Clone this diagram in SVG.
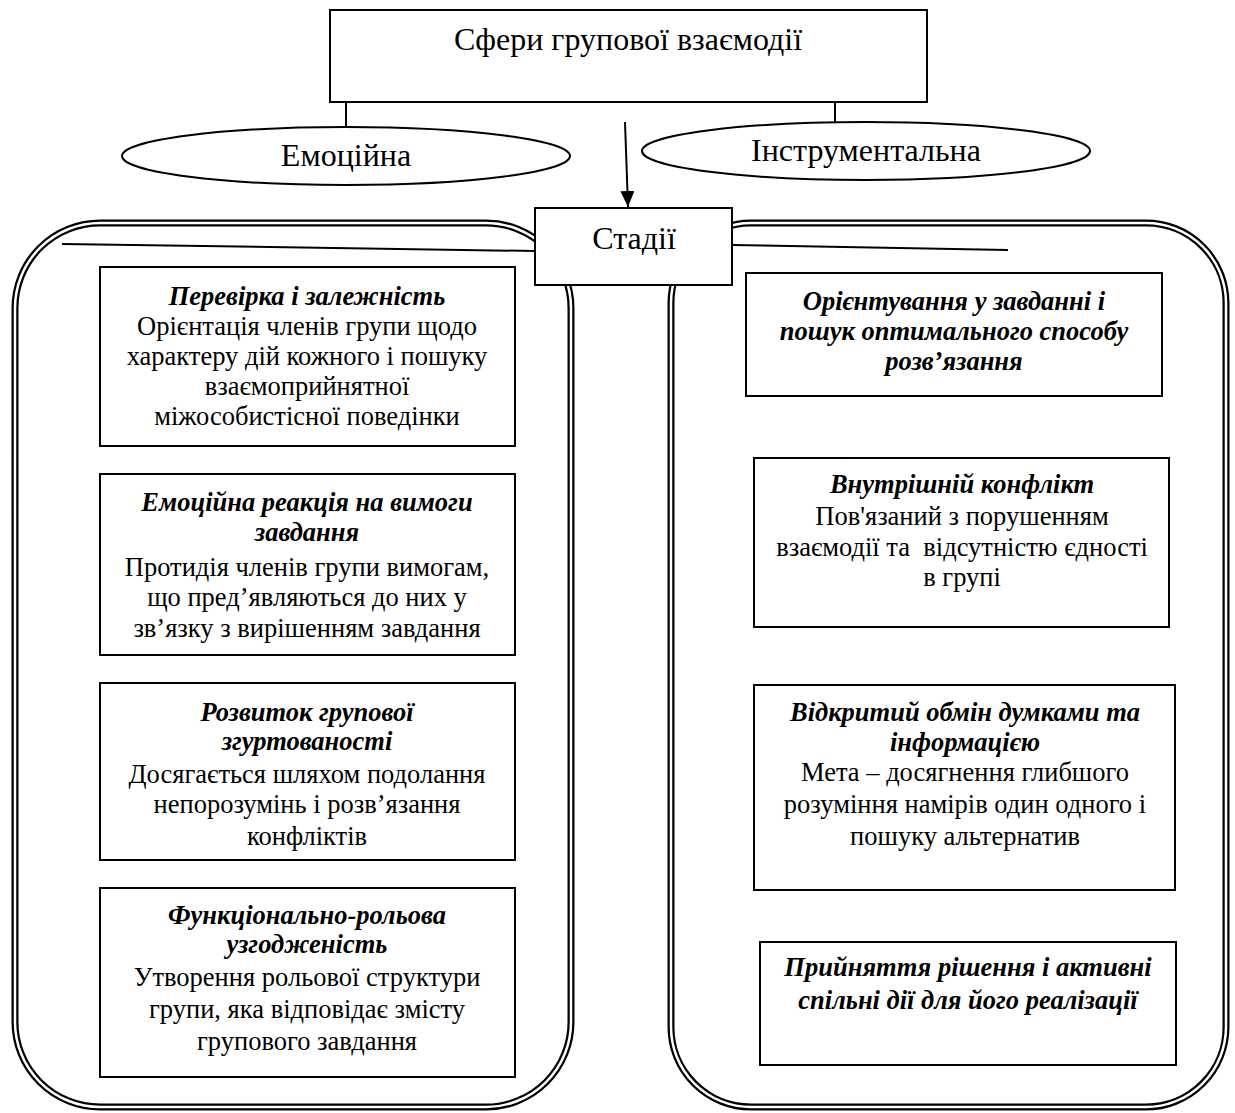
<svg xmlns="http://www.w3.org/2000/svg" width="1235" height="1113" viewBox="0 0 1235 1113">
<defs>
<marker id="ah" markerWidth="16" markerHeight="14" refX="16" refY="7" orient="auto" markerUnits="userSpaceOnUse">
<path d="M0,0 L16,7 L0,14 Z" fill="#000"/>
</marker>
</defs>
<style>
.box{fill:#fff;stroke:#000;stroke-width:2}
.outer{fill:none;stroke:#000;stroke-width:7}
.gap{fill:none;stroke:#fff;stroke-width:2.5}
.ln{fill:none;stroke:#000;stroke-width:2}
text{font-family:"Liberation Serif","Times New Roman",serif;fill:#000;text-anchor:middle}
.big{font-size:32px}
.h{font-size:26.5px;font-weight:bold;font-style:italic}
.b{font-size:26.5px}
</style>
<rect width="1235" height="1113" fill="#fff"/>

<g id="containers">
<rect class="outer" x="15" y="223" width="556" height="884" rx="85" ry="85"/>
<rect class="gap" x="15" y="223" width="556" height="884" rx="85" ry="85"/>
<rect class="outer" x="671" y="223" width="555" height="884" rx="80" ry="80"/>
<rect class="gap" x="671" y="223" width="555" height="884" rx="80" ry="80"/>
</g>

<g id="connectors">
<line class="ln" x1="346" y1="102" x2="346" y2="127"/>
<line class="ln" x1="835" y1="102" x2="835" y2="122"/>
<line class="ln" x1="625" y1="122" x2="628" y2="207" marker-end="url(#ah)"/>
<line class="ln" x1="62" y1="244" x2="535" y2="251"/>
<line class="ln" x1="732" y1="245" x2="1008" y2="250"/>
</g>

<g id="n-title">
<rect class="box" x="330" y="10" width="597" height="92"/>
<text class="big" x="628" y="50">Сфери групової взаємодії</text>
</g>
<g id="n-emo">
<ellipse class="box" cx="346" cy="156" rx="224" ry="29"/>
<text class="big" x="346" y="166">Емоційна</text>
</g>
<g id="n-instr">
<ellipse class="box" cx="866" cy="151" rx="224" ry="29"/>
<text class="big" x="866" y="161">Інструментальна</text>
</g>
<g id="n-stages">
<rect class="box" x="535" y="208" width="197" height="77"/>
<text class="big" x="634" y="249">Стадії</text>
</g>

<g id="n-l1">
<rect class="box" x="100" y="267" width="415" height="179"/>
<text class="h" x="307" y="305">Перевірка і залежність</text>
<text class="b" x="307" y="335">Орієнтація членів групи щодо</text>
<text class="b" x="307" y="365">характеру дій кожного і пошуку</text>
<text class="b" x="307" y="395">взаємоприйнятної</text>
<text class="b" x="307" y="425">міжособистісної поведінки</text>
</g>
<g id="n-l2">
<rect class="box" x="100" y="474" width="415" height="181"/>
<text class="h" x="307" y="511">Емоційна реакція на вимоги</text>
<text class="h" x="307" y="541">завдання</text>
<text class="b" x="307" y="576">Протидія членів групи вимогам,</text>
<text class="b" x="307" y="606">що пред’являються до них у</text>
<text class="b" x="307" y="637">зв’язку з вирішенням завдання</text>
</g>
<g id="n-l3">
<rect class="box" x="100" y="683" width="415" height="177"/>
<text class="h" x="307" y="721">Розвиток групової</text>
<text class="h" x="307" y="750">згуртованості</text>
<text class="b" x="307" y="783">Досягається шляхом подолання</text>
<text class="b" x="307" y="813">непорозумінь і розв’язання</text>
<text class="b" x="307" y="845">конфліктів</text>
</g>
<g id="n-l4">
<rect class="box" x="100" y="888" width="415" height="189"/>
<text class="h" x="307" y="924">Функціонально-рольова</text>
<text class="h" x="307" y="953">узгодженість</text>
<text class="b" x="307" y="986">Утворення рольової структури</text>
<text class="b" x="307" y="1018">групи, яка відповідає змісту</text>
<text class="b" x="307" y="1050">групового завдання</text>
</g>

<g id="n-r1">
<rect class="box" x="746" y="273" width="416" height="123"/>
<text class="h" x="954" y="310">Орієнтування у завданні і</text>
<text class="h" x="954" y="340">пошук оптимального способу</text>
<text class="h" x="954" y="370">розв’язання</text>
</g>
<g id="n-r2">
<rect class="box" x="754" y="458" width="415" height="169"/>
<text class="h" x="962" y="493">Внутрішній конфлікт</text>
<text class="b" x="962" y="525">Пов'язаний з порушенням</text>
<text class="b" x="962" y="556" xml:space="preserve">взаємодії та  відсутністю єдності</text>
<text class="b" x="962" y="586">в групі</text>
</g>
<g id="n-r3">
<rect class="box" x="754" y="685" width="421" height="205"/>
<text class="h" x="965" y="721">Відкритий обмін думками та</text>
<text class="h" x="965" y="751">інформацією</text>
<text class="b" x="965" y="781">Мета – досягнення глибшого</text>
<text class="b" x="965" y="813">розуміння намірів один одного і</text>
<text class="b" x="965" y="845">пошуку альтернатив</text>
</g>
<g id="n-r4">
<rect class="box" x="760" y="942" width="416" height="123"/>
<text class="h" x="968" y="976">Прийняття рішення і активні</text>
<text class="h" x="968" y="1009">спільні дії для його реалізації</text>
</g>
</svg>
